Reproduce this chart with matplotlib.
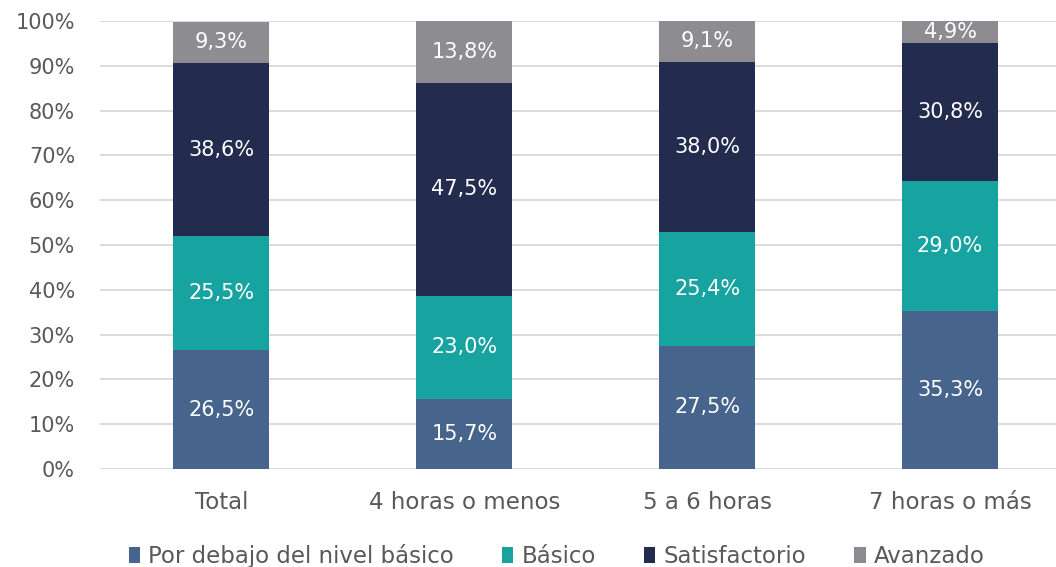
import matplotlib.pyplot as plt
import numpy as np

# Datos
categorias = ["Total", "4 horas o menos", "5 a 6 horas", "7 horas o más"]
niveles = ["Por debajo del nivel básico", "Básico", "Satisfactorio", "Avanzado"]
por_debajo = [26.5, 15.7, 27.5, 35.3]
basico = [25.5, 23.0, 25.4, 29.0]
satisfactorio = [38.6, 47.5, 38.0, 30.8]
avanzado = [9.3, 13.8, 9.1, 4.9]

colores = ["#46648C", "#17A39F", "#232B4F", "#8C8C91"]
gris = "#595959"

plt.rcParams["font.family"] = ["DejaVu Sans"]

fig = plt.figure(figsize=(10.56, 5.67), dpi=100)
ax = fig.add_axes([0.0947, 0.1728, 0.9053, 0.79])

x = np.arange(len(categorias))
base = np.zeros(len(categorias))
for serie, nombre, color in zip([por_debajo, basico, satisfactorio, avanzado], niveles, colores):
    vals = np.array(serie)
    ax.bar(x, vals, 0.395, bottom=base, color=color, label=nombre, zorder=3)
    for xi, b, v in zip(x, base, vals):
        ax.text(xi, b + v / 2, f"{v:.1f}%".replace(".", ","), ha="center", va="center",
                color="white", fontsize=15, zorder=4)
    base += vals

ax.set_ylim(0, 100)
ax.set_xlim(-0.5, 3.436)
ax.set_yticks(np.arange(0, 101, 10))
ax.set_yticklabels([f"{v}%" for v in range(0, 101, 10)])
ax.set_xticks(x)
ax.set_xticklabels(categorias)
ax.tick_params(axis="both", length=0, labelcolor=gris)
ax.tick_params(axis="y", labelsize=15, pad=18)
ax.tick_params(axis="x", labelsize=16.5, pad=16)
ax.grid(axis="y", color="#D9D9D9", linewidth=1.3, zorder=0)
for s in ax.spines.values():
    s.set_visible(False)

fig.legend(loc="lower center", bbox_to_anchor=(0.527, -0.038), ncol=4, frameon=False,
           fontsize=16.5, labelcolor=gris, handlelength=0.5, handleheight=0.75,
           handletextpad=0.35, columnspacing=2.1)

fig.savefig("out.png", dpi=100)
